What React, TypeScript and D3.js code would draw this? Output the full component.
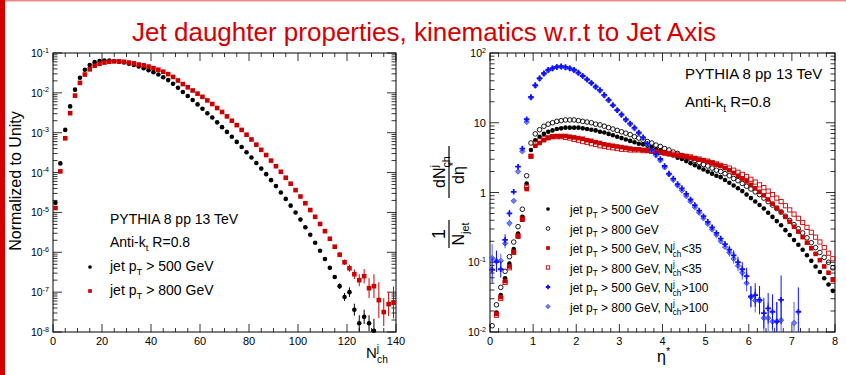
import React, { useEffect, useRef } from 'react'
import * as d3 from 'd3'

const W = 846
const H = 375
const FONT = '"Liberation Sans", Arial, Helvetica, sans-serif'
const RED = '#cc0000'
const BLUE = '#1010ff'

// ---- left panel: N_ch^j, bins of width 2, values as log10
const nchBins500 = d3.range(1, 132, 2)
const nchLog500 = [
  -4.76, -3.77, -2.93, -2.34, -1.92, -1.62, -1.42, -1.30, -1.23, -1.20,
  -1.19, -1.19, -1.20, -1.22, -1.24, -1.27, -1.30, -1.34, -1.38, -1.43,
  -1.48, -1.54, -1.61, -1.68, -1.77, -1.87, -1.98, -2.08, -2.18, -2.29,
  -2.40, -2.51, -2.62, -2.74, -2.86, -2.98, -3.10, -3.23, -3.36, -3.49,
  -3.62, -3.76, -3.90, -4.04, -4.19, -4.34, -4.50, -4.66, -4.83, -5.00,
  -5.18, -5.37, -5.56, -5.76, -5.96, -6.17, -6.39, -6.62, -6.85, -7.12,
  -7.00, -7.44, -7.78, -7.62, -7.78, -7.97,
]
const nchErr500: Record<number, number> = {
  113: 0.04, 115: 0.05, 117: 0.07, 119: 0.1, 121: 0.12, 123: 0.15, 125: 0.2, 127: 0.18, 129: 0.2, 131: 0.3,
}
const nchBins800 = d3.range(1, 140, 2)
const nchLog800 = [
  -4.89, -3.97, -3.14, -2.51, -2.07, -1.75, -1.54, -1.41, -1.32, -1.27,
  -1.24, -1.22, -1.21, -1.21, -1.22, -1.24, -1.26, -1.29, -1.31, -1.34,
  -1.38, -1.42, -1.47, -1.53, -1.60, -1.69, -1.78, -1.86, -1.94, -2.02,
  -2.10, -2.19, -2.28, -2.38, -2.48, -2.59, -2.70, -2.81, -2.93, -3.05,
  -3.17, -3.30, -3.43, -3.56, -3.70, -3.84, -3.98, -4.13, -4.28, -4.44,
  -4.60, -4.77, -4.94, -5.11, -5.29, -5.47, -5.66, -5.86, -6.06, -6.25,
  -6.40, -6.55, -6.70, -6.60, -6.90, -6.85, -7.20, -7.50, -7.30, -7.26,
]
const nchErr800: Record<number, number> = {
  113: 0.03, 115: 0.04, 117: 0.05, 119: 0.07, 121: 0.09, 123: 0.12, 125: 0.15, 127: 0.18,
  129: 0.25, 131: 0.3, 133: 0.45, 135: 0.35, 137: 0.3, 139: 0.4,
}
const nchTicks = [0, 20, 40, 60, 80, 100, 120, 140]
const nchDecades = [-8, -7, -6, -5, -4, -3, -2, -1]

// ---- right panel: eta*, bins of width 0.1, values as log10
const etaBins = d3.range(80).map((i) => 0.05 + 0.1 * i)
const etaLog500 = [
  null, -1.72, -1.47, -1.23, -1.02, -0.81, -0.59, -0.35, 0.13, 0.61,
  0.75, 0.80, 0.84, 0.87, 0.89, 0.91, 0.92, 0.93, 0.93, 0.93,
  0.93, 0.92, 0.91, 0.90, 0.89, 0.87, 0.86, 0.84, 0.82, 0.80,
  0.78, 0.76, 0.74, 0.72, 0.70, 0.69, 0.67, 0.65, 0.62, 0.60,
  0.58, 0.55, 0.53, 0.50, 0.48, 0.45, 0.42, 0.39, 0.36, 0.33,
  0.30, 0.27, 0.24, 0.22, 0.18, 0.14, 0.10, 0.06, 0.02, -0.03,
  -0.08, -0.13, -0.18, -0.23, -0.29, -0.35, -0.41, -0.47, -0.54, -0.61,
  -0.68, -0.75, -0.82, -0.90, -0.98, -1.06, -1.14, -1.23, -1.32, -1.41,
]
const etaLog800 = [
  -1.91, -1.61, -1.36, -1.13, -0.92, -0.71, -0.49, -0.24, 0.24, 0.71,
  0.84, 0.90, 0.95, 0.98, 1.00, 1.02, 1.03, 1.04, 1.04, 1.04,
  1.03, 1.02, 1.01, 1.00, 0.98, 0.97, 0.95, 0.93, 0.91, 0.89,
  0.87, 0.85, 0.83, 0.80, 0.78, 0.75, 0.73, 0.71, 0.68, 0.66,
  0.63, 0.61, 0.58, 0.56, 0.53, 0.51, 0.48, 0.46, 0.43, 0.40,
  0.38, 0.35, 0.32, 0.30, 0.27, 0.24, 0.20, 0.17, 0.13, 0.09,
  0.05, 0.01, -0.03, -0.08, -0.13, -0.18, -0.23, -0.28, -0.34, -0.40,
  -0.46, -0.52, -0.58, -0.65, -0.72, -0.79, -0.86, -0.93, -1.00, -1.08,
]
const etaLog500Lo = [
  null, -1.74, -1.50, -1.27, -1.06, -0.85, -0.62, -0.39, 0.05, 0.52,
  0.67, 0.71, 0.75, 0.78, 0.80, 0.81, 0.81, 0.81, 0.80, 0.79,
  0.78, 0.77, 0.75, 0.74, 0.72, 0.71, 0.69, 0.68, 0.67, 0.66,
  0.65, 0.64, 0.63, 0.62, 0.62, 0.61, 0.60, 0.59, 0.58, 0.57,
  0.56, 0.55, 0.54, 0.53, 0.52, 0.51, 0.50, 0.49, 0.47, 0.46,
  0.44, 0.42, 0.40, 0.38, 0.35, 0.32, 0.28, 0.24, 0.20, 0.16,
  0.11, 0.06, 0.01, -0.04, -0.10, -0.16, -0.22, -0.28, -0.35, -0.42,
  -0.49, -0.56, -0.64, -0.72, -0.80, -0.88, -0.97, -1.06, -1.15, -1.25,
]
const etaLog800Lo = [
  null, -1.76, -1.52, -1.29, -1.08, -0.86, -0.63, -0.37, 0.08, 0.52,
  0.70, 0.74, 0.77, 0.79, 0.80, 0.80, 0.80, 0.79, 0.78, 0.76,
  0.75, 0.73, 0.72, 0.70, 0.69, 0.67, 0.66, 0.65, 0.64, 0.63,
  0.62, 0.62, 0.61, 0.61, 0.61, 0.60, 0.60, 0.59, 0.59, 0.58,
  0.57, 0.56, 0.55, 0.54, 0.53, 0.52, 0.51, 0.49, 0.48, 0.46,
  0.45, 0.43, 0.41, 0.39, 0.37, 0.35, 0.32, 0.29, 0.26, 0.23,
  0.19, 0.15, 0.11, 0.07, 0.02, -0.03, -0.08, -0.13, -0.19, -0.25,
  -0.31, -0.37, -0.43, -0.50, -0.57, -0.64, -0.71, -0.79, -0.87, -0.95,
]
const etaLog500Hi = [
  -1.11, -0.99, -1.10, -0.68, -0.30, 0.01, 0.37, 0.63, 1.05, 1.37,
  1.54, 1.64, 1.71, 1.76, 1.78, 1.80, 1.81, 1.80, 1.78, 1.76,
  1.72, 1.67, 1.62, 1.57, 1.52, 1.47, 1.40, 1.33, 1.25, 1.18,
  1.12, 1.05, 0.99, 0.93, 0.86, 0.79, 0.70, 0.61, 0.55, 0.48,
  0.38, 0.27, 0.20, 0.12, 0.06, -0.02, -0.10, -0.18, -0.26, -0.34,
  -0.42, -0.50, -0.58, -0.66, -0.74, -0.82, -0.90, -1.00, -1.10, -1.20,
  -1.49, -1.47, -1.54, -1.73, -1.66, -1.71, -1.85, -1.54, null, null,
  null, -1.71, null, null, null, null, null, null, null, null,
]
const etaErr500Hi: Record<number, number> = {
  0: 0.18, 1: 0.15, 2: 0.12, 3: 0.08, 4: 0.05, 55: 0.06, 56: 0.07, 57: 0.08, 58: 0.1, 59: 0.12,
  60: 0.15, 61: 0.17, 62: 0.2, 63: 0.22, 64: 0.22, 65: 0.25, 66: 0.28, 67: 0.35, 71: 0.35,
}
const etaLog800Hi = [
  -0.94, -0.98, -0.98, -0.73, -0.44, -0.12, 0.30, 0.59, 1.01, 1.36,
  1.53, 1.63, 1.70, 1.75, 1.78, 1.80, 1.80, 1.79, 1.78, 1.75,
  1.71, 1.67, 1.62, 1.57, 1.51, 1.46, 1.39, 1.32, 1.25, 1.18,
  1.11, 1.04, 0.98, 0.92, 0.85, 0.78, 0.69, 0.60, 0.53, 0.46,
  0.36, 0.26, 0.18, 0.10, 0.03, -0.05, -0.13, -0.21, -0.29, -0.37,
  -0.45, -0.53, -0.61, -0.70, -0.78, -0.86, -0.95, -1.05, -1.15, -1.30,
  -1.50, -1.55, -1.55, -1.80, -1.80, -1.85, -1.85, -1.83, null, null,
  -1.87, null, null, null, null, null, null, null, null, null,
]
const etaErr800Hi: Record<number, number> = {
  0: 0.2, 1: 0.15, 2: 0.1, 3: 0.07, 4: 0.05, 55: 0.06, 56: 0.07, 57: 0.08, 58: 0.1, 59: 0.12,
  60: 0.15, 61: 0.17, 62: 0.2, 63: 0.22, 64: 0.22, 65: 0.25, 66: 0.28, 67: 0.3, 70: 0.3,
}
const etaTicks = [0, 1, 2, 3, 4, 5, 6, 7, 8]
const etaDecades = [-2, -1, 0, 1, 2]

type Seg = { t: string; m?: 'sub' | 'sup'; dx?: number }

function rich(parent: any, x: number, y: number, size: number, segs: Seg[], anchor = 'start', fill = '#000') {
  const t = parent.append('text')
    .attr('x', x).attr('y', y)
    .attr('font-size', size).attr('font-family', FONT)
    .attr('text-anchor', anchor).attr('fill', fill)
  let cur = 0
  segs.forEach((s) => {
    const target = s.m === 'sub' ? size * 0.32 : s.m === 'sup' ? -size * 0.42 : 0
    const sp = t.append('tspan').text(s.t).attr('dy', target - cur)
    if (s.m) sp.attr('font-size', size * 0.68)
    if (s.dx) sp.attr('dx', s.dx)
    cur = target
  })
  return t
}

function marker(g: any, kind: string, cx: number, cy: number, s = 1) {
  if (kind === 'dot') {
    g.append('circle').attr('cx', cx).attr('cy', cy).attr('r', 2.3 * s).attr('fill', '#000')
  } else if (kind === 'ring') {
    g.append('circle').attr('cx', cx).attr('cy', cy).attr('r', 2.3 * s)
      .attr('fill', 'none').attr('stroke', '#000').attr('stroke-width', 0.9)
  } else if (kind === 'sq') {
    const h = 2.3 * s
    g.append('rect').attr('x', cx - h).attr('y', cy - h).attr('width', 2 * h).attr('height', 2 * h).attr('fill', RED)
  } else if (kind === 'osq') {
    const h = 2.1 * s
    g.append('rect').attr('x', cx - h).attr('y', cy - h).attr('width', 2 * h).attr('height', 2 * h)
      .attr('fill', 'none').attr('stroke', RED).attr('stroke-width', 0.9)
  } else if (kind === 'plus') {
    const h = 2.8 * s
    g.append('path').attr('d', `M${cx - h},${cy}H${cx + h}M${cx},${cy - h}V${cy + h}`)
      .attr('stroke', BLUE).attr('stroke-width', 1.8).attr('fill', 'none')
  } else if (kind === 'dia') {
    const h = 2.7 * s
    g.append('path').attr('d', `M${cx},${cy - h}L${cx + h},${cy}L${cx},${cy + h}L${cx - h},${cy}Z`)
      .attr('fill', '#7080ff').attr('stroke', '#3040f0').attr('stroke-width', 0.8)
  }
}

function frame(g: any, x: any, y: any, xMaj: number[], xMinStep: number, decades: number[]) {
  const [x0, x1] = x.range()
  const [y0, y1] = y.range()
  const line = (a: number, b: number, c: number, d: number) =>
    g.append('line').attr('x1', a).attr('y1', b).attr('x2', c).attr('y2', d)
      .attr('stroke', '#000').attr('stroke-width', 0.8)
  const [d0, d1] = x.domain()
  d3.range(d0, d1 + 1e-9, xMinStep).forEach((v: number) => {
    const X = x(v)
    const major = xMaj.some((m) => Math.abs(m - v) < 1e-6)
    const len = major ? 8 : 4
    line(X, y0, X, y0 - len)
    line(X, y1, X, y1 + len)
  })
  const [lo, hi] = y.domain()
  decades.forEach((d) => {
    for (let k = 1; k <= 9; k++) {
      const v = k * Math.pow(10, d)
      if (v < lo * 0.999 || v > hi * 1.001) continue
      const Y = y(v)
      const len = k === 1 ? 9 : 4.5
      line(x0, Y, x0 + len, Y)
      line(x1, Y, x1 - len, Y)
    }
  })
  g.append('rect').attr('x', x0).attr('y', y1).attr('width', x1 - x0).attr('height', y0 - y1)
    .attr('fill', 'none').attr('stroke', '#000').attr('stroke-width', 1)
}

function series(g: any, x: any, y: any, bins: number[], logs: (number | null)[], kind: string,
  errs: Record<number, number>, errKey: (b: number, i: number) => number, color: string) {
  const [lo, hi] = y.domain()
  const [yb, yt] = y.range()
  const n = Math.min(bins.length, logs.length)
  for (let i = 0; i < n; i++) {
    const v = logs[i]
    if (v === null || v === undefined) continue
    const val = Math.pow(10, v)
    if (val < lo || val > hi) continue
    const X = x(bins[i])
    const e = errs[errKey(bins[i], i)]
    if (e) {
      const ya = Math.max(yt, y(Math.min(hi, Math.pow(10, v + e))))
      const yz = Math.min(yb, y(Math.max(lo, Math.pow(10, v - e))))
      g.append('line').attr('x1', X).attr('x2', X).attr('y1', ya).attr('y2', yz)
        .attr('stroke', color).attr('stroke-width', 1)
    }
    marker(g, kind, X, y(val))
  }
}

export default function App() {
  const ref = useRef<SVGSVGElement>(null)

  useEffect(() => {
    const svg = d3.select(ref.current)
    svg.selectAll('*').remove()

    svg.append('rect').attr('width', W).attr('height', H).attr('fill', '#fff')
    svg.append('rect').attr('x', 0).attr('y', 0).attr('width', W).attr('height', 1.5).attr('fill', '#e98a8a')
    svg.append('rect').attr('x', 0).attr('y', 0).attr('width', 5).attr('height', H).attr('fill', '#d40000')

    svg.append('text').attr('x', 424).attr('y', 41).attr('text-anchor', 'middle')
      .attr('font-family', FONT).attr('font-size', 26).attr('fill', '#d40000')
      .text('Jet daughter properties, kinematics w.r.t to Jet Axis')

    // ---------- left panel
    const xL = d3.scaleLinear().domain([0, 140]).range([53, 396])
    const yL = d3.scaleLog().domain([1e-8, 1e-1]).range([332, 53])
    const gL = svg.append('g')
    frame(gL, xL, yL, nchTicks, 5, nchDecades)
    nchTicks.forEach((t) => {
      gL.append('text').attr('x', xL(t)).attr('y', 345).attr('text-anchor', 'middle')
        .attr('font-family', FONT).attr('font-size', 11).text(t)
    })
    nchDecades.forEach((d) => {
      rich(gL, 49, yL(Math.pow(10, d)) + 4, 10.5, [{ t: '10' }, { t: String(d), m: 'sup' }], 'end')
    })
    gL.append('text').attr('transform', 'translate(21,181) rotate(-90)').attr('text-anchor', 'middle')
      .attr('font-family', FONT).attr('font-size', 16).text('Normalized to Unity')
    rich(gL, 366, 358, 15, [{ t: 'N' }, { t: 'j', m: 'sup' }, { t: 'ch', m: 'sub', dx: -2 }])

    series(gL, xL, yL, nchBins500, nchLog500, 'dot', nchErr500, (b) => b, '#000')
    series(gL, xL, yL, nchBins800, nchLog800, 'sq', nchErr800, (b) => b, RED)

    rich(gL, 110, 224, 14, [{ t: 'PYTHIA 8 pp 13 TeV' }])
    rich(gL, 110, 247, 14, [{ t: 'Anti-k' }, { t: 't', m: 'sub' }, { t: ' R=0.8' }])
    rich(gL, 110, 271, 14, [{ t: 'jet p' }, { t: 'T', m: 'sub' }, { t: ' > 500 GeV' }])
    rich(gL, 110, 295, 14, [{ t: 'jet p' }, { t: 'T', m: 'sub' }, { t: ' > 800 GeV' }])
    marker(gL, 'dot', 90, 267, 0.8)
    marker(gL, 'sq', 90, 291, 0.8)

    // ---------- right panel
    const xR = d3.scaleLinear().domain([0, 8]).range([490, 835])
    const yR = d3.scaleLog().domain([1e-2, 1e2]).range([332, 53])
    const gR = svg.append('g')
    frame(gR, xR, yR, etaTicks, 0.2, etaDecades)
    etaTicks.forEach((t) => {
      gR.append('text').attr('x', xR(t)).attr('y', 345).attr('text-anchor', 'middle')
        .attr('font-family', FONT).attr('font-size', 11).text(t)
    })
    etaDecades.forEach((d) => {
      const Y = yR(Math.pow(10, d)) + 4
      if (d === 0) rich(gR, 486, Y, 11, [{ t: '1' }], 'end')
      else if (d === 1) rich(gR, 486, Y, 11, [{ t: '10' }], 'end')
      else rich(gR, 486, Y, 10.5, [{ t: '10' }, { t: String(d), m: 'sup' }], 'end')
    })
    rich(gR, 657, 362, 16, [{ t: 'η' }, { t: '*', m: 'sup' }])

    // y title: 1/N_jet dN/deta*
    const fr = gR.append('g').attr('transform', 'translate(449,192) rotate(-90)')
    const ln = (a: number, b: number) => fr.append('line').attr('x1', a).attr('x2', b)
      .attr('y1', 0).attr('y2', 0).attr('stroke', '#000').attr('stroke-width', 1.2)
    rich(fr, -42, -4, 18, [{ t: '1' }], 'middle')
    ln(-56, -28)
    rich(fr, -42, 15, 16, [{ t: 'N' }, { t: 'jet', m: 'sub' }], 'middle')
    rich(fr, 20, -4, 16, [{ t: 'dN' }, { t: 'j', m: 'sup' }, { t: 'ch', m: 'sub', dx: -2.5 }], 'middle')
    ln(-6, 46)
    rich(fr, 19, 15, 16, [{ t: 'dη' }, { t: '*', m: 'sup' }], 'middle')

    const none: Record<number, number> = {}
    series(gR, xR, yR, etaBins, etaLog500, 'dot', none, (_b, i) => i, '#000')
    series(gR, xR, yR, etaBins, etaLog800, 'ring', none, (_b, i) => i, '#000')
    series(gR, xR, yR, etaBins, etaLog500Lo, 'sq', none, (_b, i) => i, RED)
    series(gR, xR, yR, etaBins, etaLog800Lo, 'osq', none, (_b, i) => i, RED)
    series(gR, xR, yR, etaBins, etaLog800Hi, 'dia', etaErr800Hi, (_b, i) => i, '#5060ff')
    series(gR, xR, yR, etaBins, etaLog500Hi, 'plus', etaErr500Hi, (_b, i) => i, BLUE)

    rich(gR, 685, 79, 15, [{ t: 'PYTHIA 8 pp 13 TeV' }])
    rich(gR, 685, 107, 15, [{ t: 'Anti-k' }, { t: 't', m: 'sub' }, { t: ' R=0.8' }])

    const legend: [string, Seg[]][] = [
      ['dot', [{ t: 'jet p' }, { t: 'T', m: 'sub' }, { t: ' > 500 GeV' }]],
      ['ring', [{ t: 'jet p' }, { t: 'T', m: 'sub' }, { t: ' > 800 GeV' }]],
      ['sq', [{ t: 'jet p' }, { t: 'T', m: 'sub' }, { t: ' > 500 GeV, N' }, { t: 'j', m: 'sup' }, { t: 'ch', m: 'sub', dx: -2 }, { t: '<35' }]],
      ['osq', [{ t: 'jet p' }, { t: 'T', m: 'sub' }, { t: ' > 800 GeV, N' }, { t: 'j', m: 'sup' }, { t: 'ch', m: 'sub', dx: -2 }, { t: '<35' }]],
      ['plus', [{ t: 'jet p' }, { t: 'T', m: 'sub' }, { t: ' > 500 GeV, N' }, { t: 'j', m: 'sup' }, { t: 'ch', m: 'sub', dx: -2 }, { t: '>100' }]],
      ['dia', [{ t: 'jet p' }, { t: 'T', m: 'sub' }, { t: ' > 800 GeV, N' }, { t: 'j', m: 'sup' }, { t: 'ch', m: 'sub', dx: -2 }, { t: '>100' }]],
    ]
    legend.forEach(([kind, segs], i) => {
      const Y = 209 + i * 19.5
      marker(gR, kind, 548, Y, 0.8)
      rich(gR, 570, Y + 5, 12, segs)
    })
  }, [])

  return (
    <svg ref={ref} width={W} height={H}
      style={{ position: 'absolute', left: 0, top: 0, display: 'block' }} />
  )
}
